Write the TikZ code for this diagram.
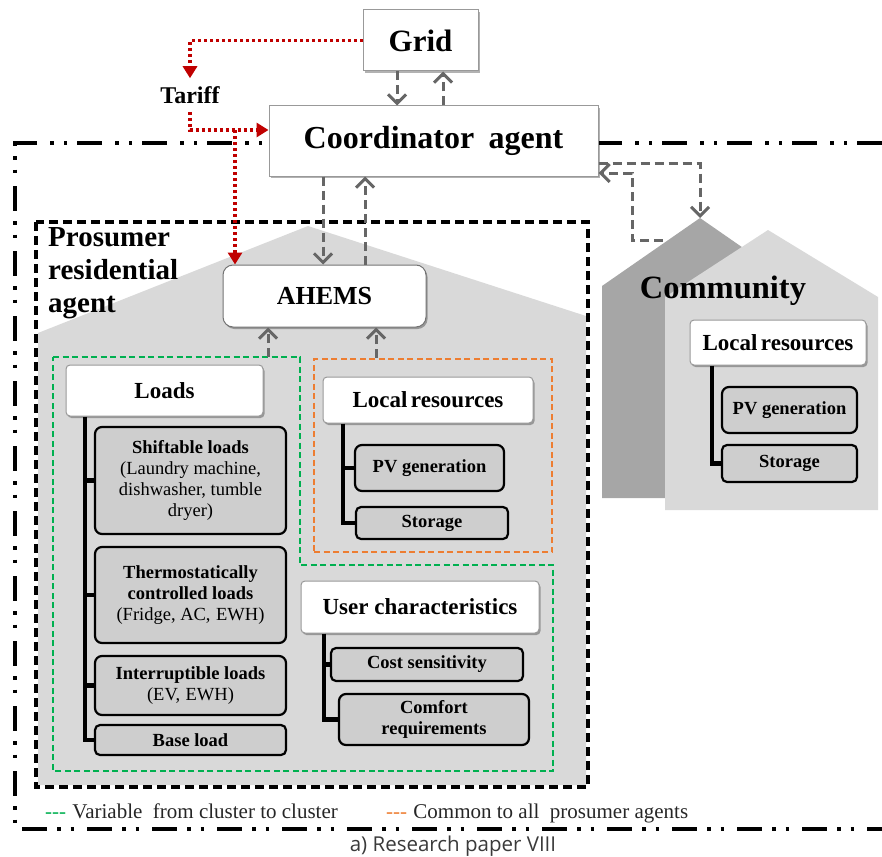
\documentclass[tikz,border=0pt]{standalone}
\usepackage{fontspec}
\setmainfont{Liberation Serif}
\newfontfamily\capfont{Open Sans}
\usetikzlibrary{arrows.meta,shadows}

\definecolor{housegray}{HTML}{D9D9D9}
\definecolor{darkhouse}{HTML}{A6A6A6}
\definecolor{itemgray}{HTML}{CECECE}
\definecolor{flowgray}{HTML}{666666}
\definecolor{tariffred}{HTML}{C00000}
\definecolor{clustergreen}{HTML}{00B050}
\definecolor{commonorange}{HTML}{ED7D31}
\definecolor{legendtext}{HTML}{262626}
\definecolor{captiontext}{HTML}{3A3A3A}

\newcommand\fsz[2]{\fontsize{#1}{#2}\selectfont}

\begin{document}
\begin{tikzpicture}[x=1pt,y=-1pt,
  whitebox/.style={draw=black!40, fill=white, line width=1pt, inner sep=0pt, align=center,
    drop shadow={shadow xshift=1.5pt, shadow yshift=-2pt, opacity=0.3, fill=black}},
  headbox/.style={whitebox, rounded corners=4pt, font=\bfseries\fsz{23}{26}},
  itembox/.style={draw=black, line width=2.2pt, fill=itemgray, rounded corners=7pt,
    inner sep=0pt, align=center, font=\fsz{18.5}{21}},
  tree/.style={line width=4.5pt, draw=black, line join=miter},
  flow/.style={draw=flowgray, line width=3pt, dash pattern=on 9pt off 5pt,
    -{Straight Barb[length=9pt,width=18pt,line width=3pt]}},
  tariff/.style={draw=tariffred, line width=3.5pt, dash pattern=on 3pt off 3pt,
    -{Triangle[length=12pt,width=14pt]}},
  outerframe/.style={line width=4pt, dash pattern=on 25pt off 10pt on 3.5pt off 10pt on 3.5pt off 13pt},
  agentframe/.style={line width=3.5pt, dash pattern=on 9pt off 5pt},
  clusterframe/.style={draw=clustergreen, line width=2pt, dash pattern=on 6pt off 3.5pt},
  commonframe/.style={draw=commonorange, line width=2pt, dash pattern=on 6pt off 3.5pt}
]
\useasboundingbox (0,0) rectangle (882,856);

% dash-dot frame of the community, open on the right
\draw[outerframe] (882,143) -- (15,143) -- (15,829) -- (882,829);

% prosumer house and its frame
\fill[housegray] (38,333) -- (308,226) -- (586,316) -- (586,785) -- (38,785) -- cycle;
\draw[agentframe] (36,222) rectangle (588,787);

% community houses
\fill[darkhouse] (602,498) -- (602,286) -- (700,218) -- (798,286) -- (798,498) -- cycle;
\fill[housegray] (665,510) -- (665,297) -- (768,230) -- (878,297) -- (878,510) -- cycle;

% cluster-dependent (green) and common (orange) groups
\draw[clusterframe] (53,357) -- (300,357) -- (300,565) -- (553,565) -- (553,771) -- (53,771) -- cycle;
\node[commonframe, minimum width=238pt, minimum height=193pt, inner sep=0pt] (common) at (433,455.5) {};

% labels of the houses
\node[anchor=north west, align=left, font=\bfseries\fsz{29}{33}, inner sep=0pt] (prosumer) at (48,227)
  {Prosumer\\residential\\agent};
\node[font=\bfseries\fsz{32.5}{34}, inner sep=0pt] (community) at (723,291) {Community};

% top level agents
\node[whitebox, font=\bfseries\fsz{31}{34}, minimum width=115pt, minimum height=61pt] (grid) at (420.5,40.5) {Grid};
\node[whitebox, font=\bfseries\fsz{32}{36}, minimum width=329pt, minimum height=70pt] (coord) at (433.5,141)
  {Coordinator\hspace{0.45em}agent};
\node[whitebox, rounded corners=10pt, draw=black!55, font=\bfseries\fsz{26}{30}, minimum width=203pt, minimum height=62pt]
  (ahems) at (324.5,296) {AHEMS};

% group headers
\node[headbox, minimum width=197pt, minimum height=51pt] (loads) at (164.5,390.5) {Loads};
\node[headbox, minimum width=210pt, minimum height=46pt] (locres) at (428,400) {Local\hspace{0.15em}resources};
\node[headbox, minimum width=238pt, minimum height=52pt] (userch) at (420,607) {User characteristics};
\node[headbox, minimum width=176pt, minimum height=45pt] (commres) at (778,342.5) {Local\hspace{0.15em}resources};

% load items
\node[itembox, minimum width=191pt, minimum height=107pt] (shift) at (190.5,480.5)
  {\textbf{Shiftable loads}\\(Laundry machine,\\dishwasher, tumble\\dryer)};
\node[itembox, minimum width=191pt, minimum height=96pt] (thermo) at (190.5,595)
  {\textbf{Thermostatically}\\\textbf{controlled loads}\\(Fridge, AC,\hspace{0.3em}EWH)};
\node[itembox, minimum width=191pt, minimum height=59pt] (interr) at (190.5,685.5)
  {\textbf{Interruptible loads}\\(EV,\hspace{0.3em}EWH)};
\node[itembox, minimum width=191pt, minimum height=30pt, rounded corners=5pt] (base) at (190.5,740)
  {\textbf{Base load}};

% local resource items
\node[itembox, minimum width=149pt, minimum height=46pt] (pv) at (429.5,468) {\textbf{PV generation}};
\node[itembox, minimum width=152pt, minimum height=32pt, rounded corners=5pt] (stor) at (432,523) {\textbf{Storage}};

% user characteristic items
\node[itembox, minimum width=192pt, minimum height=33pt, rounded corners=5pt] (cost) at (427,664.5) {\textbf{Cost sensitivity}};
\node[itembox, minimum width=190pt, minimum height=51pt] (comfort) at (434,719.5) {\textbf{Comfort}\\\textbf{requirements}};

% community resource items
\node[itembox, minimum width=135pt, minimum height=46pt] (cpv) at (789.5,410) {\textbf{PV generation}};
\node[itembox, minimum width=135pt, minimum height=37pt, rounded corners=5pt] (cstor) at (789.5,463.5) {\textbf{Storage}};

% tree connectors
\coordinate (lx) at (85,0);
\coordinate (rx) at (343,0);
\coordinate (ux) at (324,0);
\coordinate (cx) at (712,0);
\draw[tree] (lx |- loads.south) |- (base.west);
\draw[tree] (lx |- shift.west) -- (shift.west);
\draw[tree] (lx |- thermo.west) -- (thermo.west);
\draw[tree] (lx |- interr.west) -- (interr.west);
\draw[tree] (rx |- locres.south) |- (stor.west);
\draw[tree] (rx |- pv.west) -- (pv.west);
\draw[tree] (ux |- userch.south) |- (comfort.west);
\draw[tree] (ux |- cost.west) -- (cost.west);
\draw[tree] (cx |- commres.south) |- (cstor.west);

% tariff signal
\node[font=\bfseries\fsz{24}{26}, inner xsep=0pt, inner ysep=8pt] (tariffnode) at (190,95) {Tariff};
\coordinate (redy) at (0,130);
\coordinate (redx) at (235,0);
\draw[tariff] (grid.west) -| (tariffnode.north);
\draw[tariff] (tariffnode.south) |- (coord.west |- redy);
\draw[tariff] (redx |- redy) -- (redx |- ahems.north);

% information flows
\coordinate (f1) at (397,0);
\coordinate (f2) at (443,0);
\coordinate (f3) at (323,0);
\coordinate (f4) at (365,0);
\coordinate (f5) at (268,0);
\coordinate (f6) at (376,0);
\coordinate (gtop) at (268,357);
\draw[flow] (grid.south -| f1) -- (coord.north -| f1);
\draw[flow] (coord.north -| f2) -- (grid.south -| f2);
\draw[flow] (coord.south -| f3) -- (ahems.north -| f3);
\draw[flow] (ahems.north -| f4) -- (coord.south -| f4);
\draw[flow] (gtop) -- (ahems.south -| f5);
\draw[flow] (common.north -| f6) -- (ahems.south -| f6);

\coordinate (cy) at (0,163);
\coordinate (cpeak) at (700,218);
\coordinate (cfoot) at (663,240);
\coordinate (cbend) at (632,173);
\draw[flow] (coord.east |- cy) -| (cpeak);
\draw[flow] (cfoot) -| (cbend) -- (coord.east |- cbend);

% legend
\node[anchor=base west, inner sep=0pt, font=\fsz{21}{24}, text=legendtext] (legA) at (45,818)
  {\textcolor{clustergreen}{-{}-{}-}\hspace{0.3em}Variable\hspace{0.5em}from cluster to cluster};
\node[anchor=base west, inner sep=0pt, font=\fsz{21}{24}, text=legendtext] (legB) at (386,818)
  {\textcolor{commonorange}{-{}-{}-}\hspace{0.3em}Common to all\hspace{0.5em}prosumer agents};

% caption
\node[anchor=base, inner sep=0pt, font=\capfont\fsz{20.5}{22}, text=captiontext] (caption) at (453,851)
  {a) Research paper VIII};
\end{tikzpicture}
\end{document}
